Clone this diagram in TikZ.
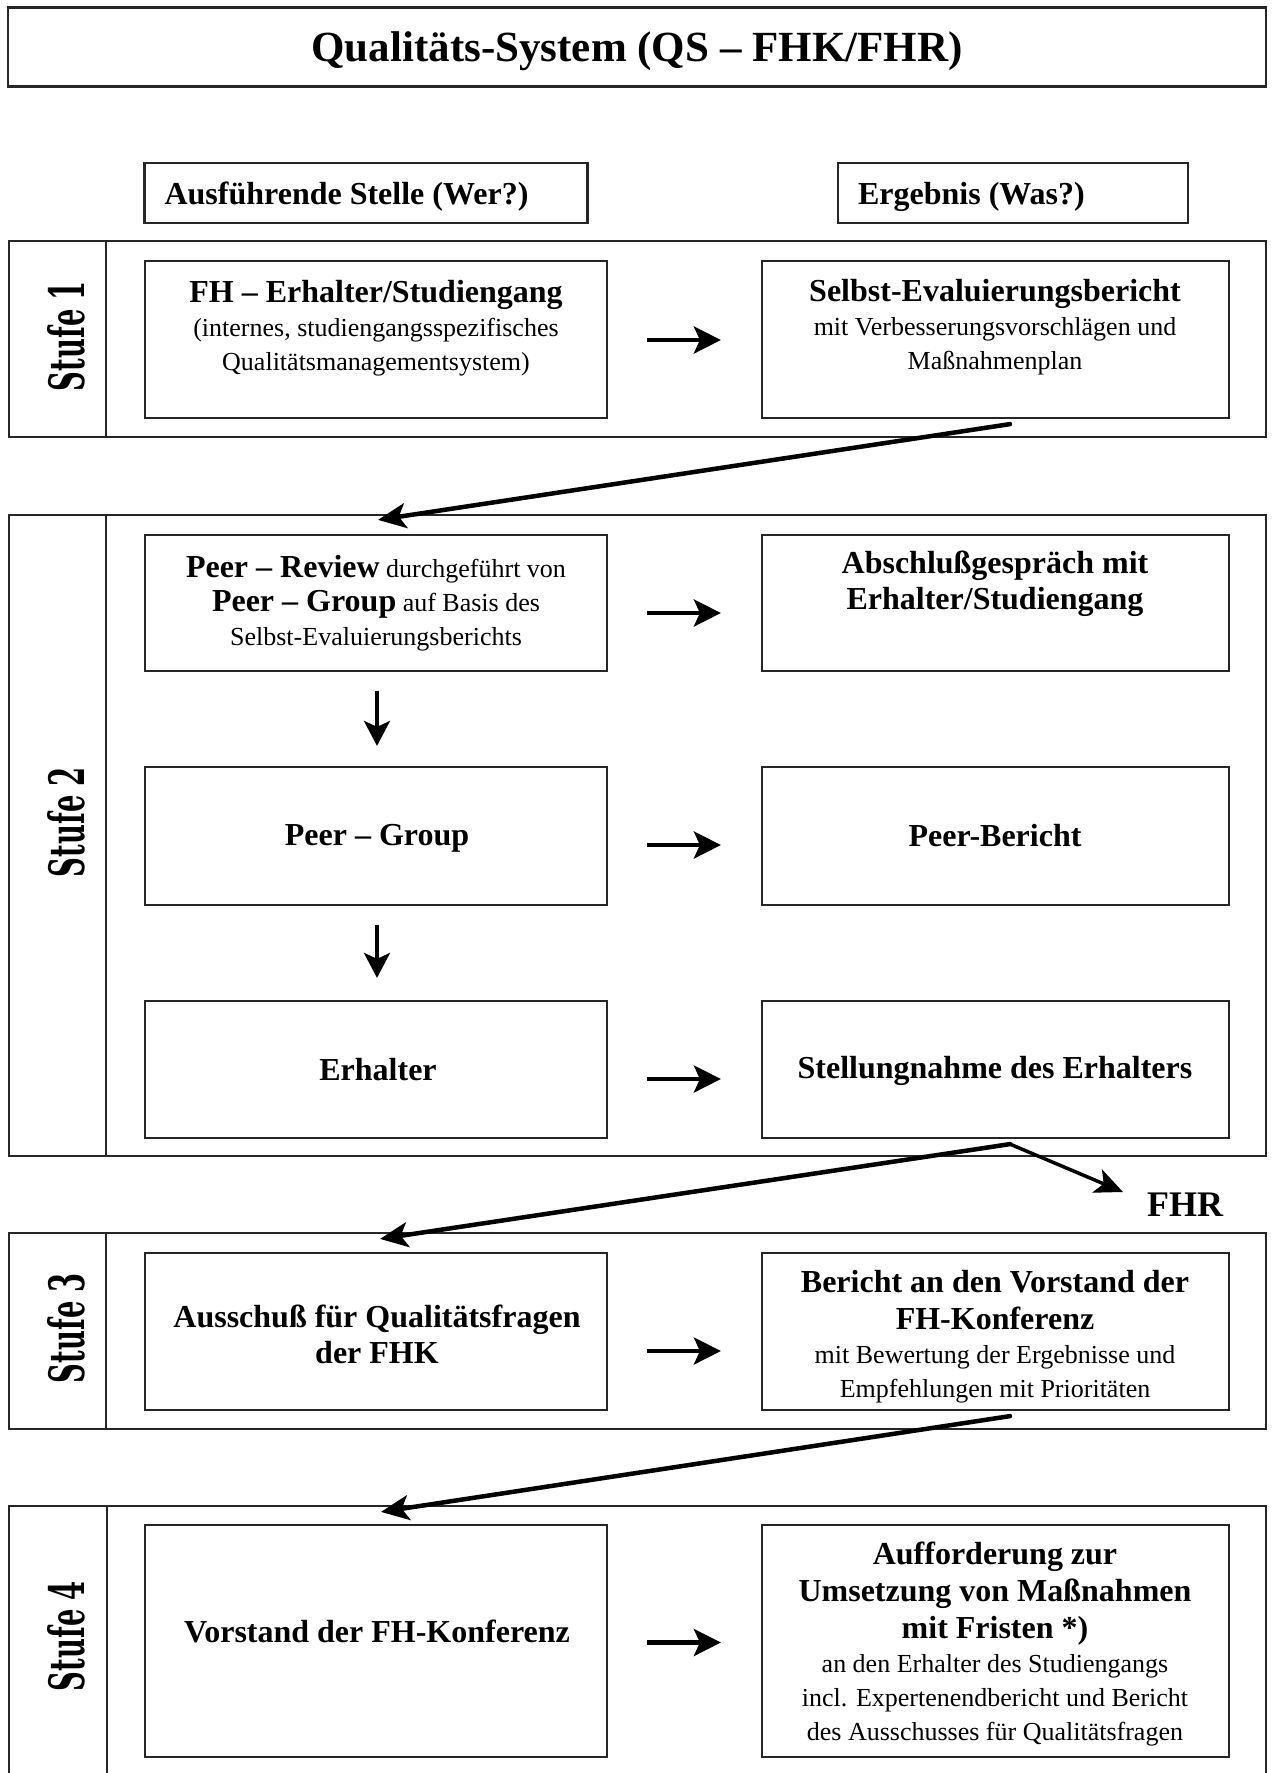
\documentclass[tikz,border=0pt]{standalone}
\usepackage{fontspec}
\setmainfont{Liberation Serif}
\newfontfamily\stufefont{DejaVu Serif}
\usepackage{graphicx}
\usetikzlibrary{arrows.meta}
\newcommand\qbf{\fontsize{32}{34}\selectfont\bfseries}
\newcommand\qrm{\fontsize{26}{34}\selectfont\mdseries}
\newcommand\qtitle{\fontsize{43}{50}\selectfont\bfseries}
\newcommand\stufe[1]{\resizebox{110pt}{37pt}{\stufefont\bfseries Stufe #1}}
\begin{document}
\begin{tikzpicture}[x=1pt,y=-1pt,
  box/.style={draw=black!85, line width=2.2pt, inner sep=0pt},
  lbox/.style={box, minimum width=462pt},
  rbox/.style={box, minimum width=467pt},
  frame/.style={draw=black!85, line width=2.4pt, inner sep=0pt, minimum width=1257pt},
  divider/.style={draw=black!85, line width=1.6pt},
  txt/.style={align=center, font=\qrm, inner sep=0pt},
  hdrtxt/.style={inner sep=0pt, anchor=west, font=\qbf},
  harr/.style={line width=4.5pt, -{Stealth[length=27pt,width=27pt,inset=6pt]}, shorten <=39pt, shorten >=40pt},
  varr/.style={line width=3.5pt, -{Stealth[length=25pt,width=26pt,inset=6pt]}},
  darr/.style={line width=4.5pt, line cap=round, -{Stealth[length=28pt,width=25pt,inset=7pt]}},
  stlabel/.style={rotate=90, inner sep=0pt}
]
\useasboundingbox (0,0) rectangle (1273,1773);
\fill[white] (0,0) rectangle (1273,1773);

% title
\node[box, minimum width=1258pt, minimum height=79pt] (title) at (637,47) {};
\node[inner sep=0pt, font=\qtitle] (titletext) at (637,51) {Qualitäts-System (QS – FHK/FHR)};

% headers
\node[box, minimum width=443pt, minimum height=60pt] (hl) at (366,193) {};
\node[box, minimum width=350pt, minimum height=60pt] (hr) at (1013,193) {};
\node[hdrtxt] (hltext) at ([xshift=21pt,yshift=-4pt]hl.west) {Ausführende Stelle (Wer?)};
\node[hdrtxt] (hrtext) at ([xshift=21pt,yshift=-4pt]hr.west) {Ergebnis (Was?)};

% frames
\node[frame, minimum height=196pt] (f1) at (637.5,339) {};
\node[frame, minimum height=641pt] (f2) at (637.5,835.5) {};
\node[frame, minimum height=196pt] (f3) at (637.5,1331) {};
\draw[draw=black!85, line width=2.4pt] (9,1790) -- (9,1506) -- (1266,1506) -- (1266,1790);
\draw[divider] ([xshift=98pt]f1.north west) -- ([xshift=98pt]f1.south west);
\draw[divider] ([xshift=98pt]f2.north west) -- ([xshift=98pt]f2.south west);
\draw[divider] ([xshift=98pt]f3.north west) -- ([xshift=98pt]f3.south west);
\draw[divider] (107,1506) -- (107,1790);

% stufe labels
\node[stlabel] (st1) at (66,336) {\stufe{1}};
\node[stlabel] (st2) at (66,822) {\stufe{2}};
\node[stlabel] (st3) at (66,1328) {\stufe{3}};
\node[stlabel] (st4) at (66,1636) {\stufe{4}};

% boxes
\node[lbox, minimum height=157pt] (b1l) at (376,339.5) {};
\node[rbox, minimum height=157pt] (b1r) at (995.5,339.5) {};
\node[lbox, minimum height=136pt] (b2l1) at (376,603) {};
\node[rbox, minimum height=136pt] (b2r1) at (995.5,603) {};
\node[lbox, minimum height=138pt] (b2l2) at (376,836) {};
\node[rbox, minimum height=138pt] (b2r2) at (995.5,836) {};
\node[lbox, minimum height=137pt] (b2l3) at (376,1069.5) {};
\node[rbox, minimum height=137pt] (b2r3) at (995.5,1069.5) {};
\node[lbox, minimum height=157pt] (b3l) at (376,1331.5) {};
\node[rbox, minimum height=157pt] (b3r) at (995.5,1331.5) {};
\node[lbox, minimum height=232pt] (b4l) at (376,1641) {};
\node[rbox, minimum height=232pt] (b4r) at (995.5,1641) {};

% texts
\node[txt] (t1l) at (376,328) {{\qbf FH – Erhalter/Studiengang}\\(internes, studiengangsspezifisches\\Qualitätsmanagementsystem)};
\node[txt] (t1r) at (995,327) {{\qbf Selbst-Evaluierungsbericht}\\mit Verbesserungsvorschlägen und\\Maßnahmenplan};
\node[txt] (t2l1) at (376,603) {{\qbf Peer – Review} durchgeführt von\\{\qbf Peer – Group} auf Basis des\\Selbst-Evaluierungsberichts};
\node[txt, font=\qbf] (t2r1) at (995,584) {Abschlußgespräch mit\\[2pt]Erhalter/Studiengang};
\node[txt, font=\qbf] (t2l2) at (377,838) {Peer – Group};
\node[txt, font=\qbf] (t2r2) at (995,836) {Peer-Bericht};
\node[txt, font=\qbf] (t2l3) at (378,1070) {Erhalter};
\node[txt, font=\qbf] (t2r3) at (995,1071) {Stellungnahme des Erhalters};
\node[txt, font=\qbf] (t3l) at (377,1334) {Ausschuß für Qualitätsfragen\\[2pt]der FHK};
\node[txt] (t3r) at (995,1337) {{\qbf Bericht an den Vorstand der}\\[3pt]{\qbf FH-Konferenz}\\mit Bewertung der Ergebnisse und\\Empfehlungen mit Prioritäten};
\node[txt, font=\qbf] (t4l) at (377,1631) {Vorstand der FH-Konferenz};
\node[txt] (t4r) at (995,1644) {{\qbf Aufforderung zur}\\[3pt]{\qbf Umsetzung von Maßnahmen}\\[3pt]{\qbf mit Fristen *)}\\an den Erhalter des Studiengangs\\incl. Expertenendbericht und Bericht\\des Ausschusses für Qualitätsfragen};

\node[inner sep=0pt, font=\fontsize{36}{40}\selectfont\bfseries, anchor=west] (fhr) at (1147,1205) {FHR};

% horizontal arrows
\draw[harr] ([yshift=-0.5pt]b1l.east) -- ([yshift=-0.5pt]b1r.west);
\draw[harr] ([yshift=-10pt]b2l1.east) -- ([yshift=-10pt]b2r1.west);
\draw[harr] ([yshift=-9pt]b2l2.east) -- ([yshift=-9pt]b2r2.west);
\draw[harr] ([yshift=-9.5pt]b2l3.east) -- ([yshift=-9.5pt]b2r3.west);
\draw[harr] ([yshift=-19.5pt]b3l.east) -- ([yshift=-19.5pt]b3r.west);
\draw[harr] ([yshift=-1.5pt]b4l.east) -- ([yshift=-1.5pt]b4r.west);

% vertical arrows
\draw[varr, shorten <=19pt, shorten >=20pt] ([xshift=1pt]b2l1.south) -- ([xshift=1pt]b2l2.north);
\draw[varr, shorten <=19pt, shorten >=22pt] ([xshift=1pt]b2l2.south) -- ([xshift=1pt]b2l3.north);

% diagonal arrows
\draw[darr] ([shift={(14.5pt,-5pt)}]b1r.south) -- ([shift={(2pt,14pt)}]b2l1.north);
\coordinate (apex) at ([shift={(14.5pt,-5pt)}]b2r3.south);
\draw[darr] (apex) -- ([shift={(4pt,13pt)}]b3l.north);
\draw[darr, line width=3.5pt] (apex) -- ([shift={(-24pt,13pt)}]fhr.west);
\draw[darr] ([shift={(14.5pt,-5pt)}]b3r.south) -- ([shift={(5pt,12pt)}]b4l.north);
\end{tikzpicture}
\end{document}
